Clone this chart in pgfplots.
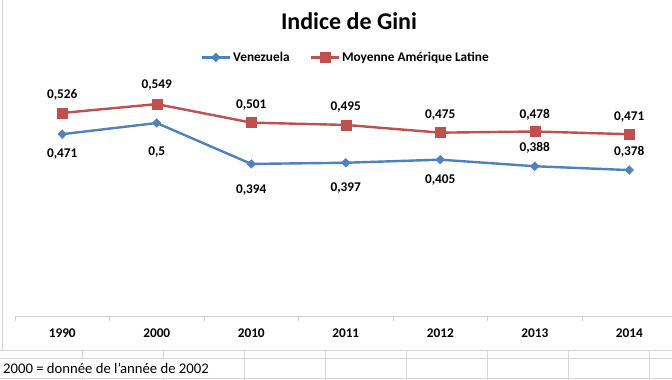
\documentclass[border=0pt]{standalone}
\usepackage{pgfplots}
\pgfplotsset{compat=1.18}
\usepackage{pgfplotstable}
\usepackage{fontspec}
\setmainfont{Carlito}
\definecolor{venblue}{HTML}{4F81BD}
\definecolor{latred}{HTML}{C0504D}
\definecolor{cellgrid}{HTML}{D4D4D4}
\definecolor{axgray}{HTML}{D0D0D0}
\pgfplotstableread{
x ven vdy lat ldy
0 0.471 -20 0.526 18
1 0.5 -29 0.549 19
2 0.394 -26 0.501 18
3 0.397 -25 0.495 18
4 0.405 -20 0.475 18
5 0.388 18 0.478 17
6 0.378 18 0.471 17
}\gini
\begin{document}
\begin{tikzpicture}[x=1pt,y=1pt]
\useasboundingbox (0,0) rectangle (672,380);
\fill[white] (0,0) rectangle (672,380);
% spreadsheet cells below the chart
\draw[cellgrid, line width=0.8pt] (0,30) -- (672,30);
\draw[cellgrid, line width=0.8pt] (0,22) -- (672,22);
\draw[cellgrid, line width=0.8pt] (0,2) -- (672,2);
\foreach \cx in {82,163} {\draw[cellgrid, line width=0.8pt] (\cx,22) -- (\cx,30); \draw[cellgrid, line width=0.8pt] (\cx,0) -- (\cx,2);}
\foreach \cx in {244,325,406,487,568,649} {\draw[cellgrid, line width=0.8pt] (\cx,0) -- (\cx,30);}
\draw[cellgrid, line width=0.8pt] (2,30) -- (2,380);
\node[anchor=west, font=\fontsize{14.7}{17}\selectfont, inner sep=0pt] at (3,11.5) {2000 = donnée de l'année de 2002};
% title
\node[font=\fontsize{24}{28}\selectfont\bfseries] at (349,359) {Indice de Gini};
\begin{axis}[
  at={(15pt,64pt)}, anchor=south west,
  scale only axis, width=661.5pt, height=231.6pt,
  xmin=-0.5, xmax=6.5, ymin=0, ymax=0.6,
  axis x line*=bottom, axis y line=none,
  x axis line style={draw=axgray, line width=0.8pt},
  xtick={0,...,6},
  xticklabels={1990,2000,2010,2011,2012,2013,2014},
  major tick length=0pt,
  xticklabel style={font=\fontsize{13.3}{16}\selectfont\bfseries, anchor=center, yshift=-17pt},
  extra x ticks={-0.5,0.5,1.5,2.5,3.5,4.5,5.5,6.5},
  extra x tick labels={},
  extra x tick style={tick align=outside, major tick length=5pt, tick style={draw=axgray, line width=0.8pt}},
  clip=false,
  legend columns=2,
  legend style={draw=none, fill=none, at={(0.5,1)}, anchor=center, yshift=27pt, xshift=0pt,
     font=\fontsize{13.3}{16}\selectfont\bfseries,
     /tikz/every even column/.append style={column sep=18pt},
     inner sep=0pt},
  legend image code/.code={\draw[mark repeat=2,mark phase=2,#1] plot coordinates {(0pt,0pt) (14pt,0pt) (28pt,0pt)};},
  nodes near coords={\pgfmathprintnumber[fixed,precision=3,use comma,assume math mode=true]{\pgfplotspointmeta}},
  point meta=y,
]
\addplot[color=venblue, line width=2.4pt, mark=diamond*, mark size=4.3pt, mark options={xscale=1.33, line width=0.5pt},
  visualization depends on={\thisrow{vdy} \as \dy},
  every node near coord/.append style={anchor=center, yshift=\dy pt, color=black, font=\fontsize{13.3}{16}\selectfont\bfseries}]
  table[x=x, y=ven] {\gini};
\addlegendentry{Venezuela}
\addplot[color=latred, line width=2.4pt, mark=square*, mark size=5pt, mark options={line width=0.5pt},
  visualization depends on={\thisrow{ldy} \as \dy},
  every node near coord/.append style={anchor=center, yshift=\dy pt, color=black, font=\fontsize{13.3}{16}\selectfont\bfseries}]
  table[x=x, y=lat] {\gini};
\addlegendentry{Moyenne Amérique Latine}
\end{axis}
\end{tikzpicture}
\end{document}
